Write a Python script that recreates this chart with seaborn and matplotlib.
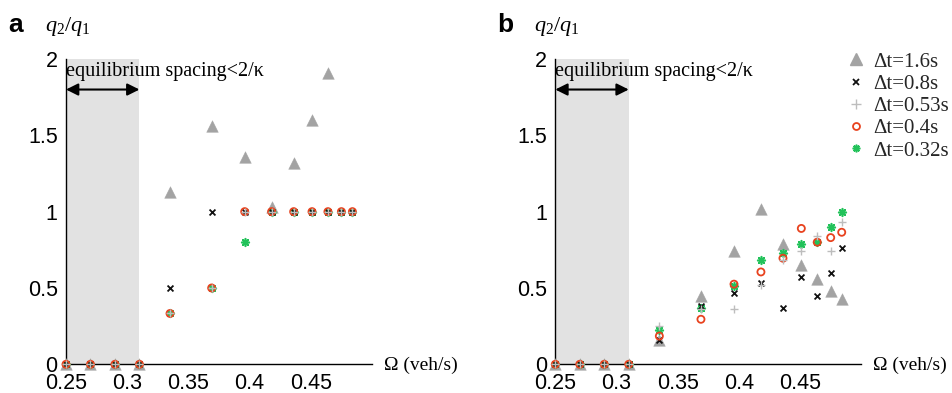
import numpy as np
import pandas as pd
import matplotlib
matplotlib.use("Agg")
import matplotlib.pyplot as plt
import seaborn as sns
from matplotlib.lines import Line2D

sns.set_theme(style="white")
plt.rcParams['font.family'] = ['Liberation Sans', 'DejaVu Sans']
plt.rcParams['mathtext.fontset'] = 'custom'
plt.rcParams['mathtext.rm'] = 'Liberation Serif'
plt.rcParams['mathtext.it'] = 'Liberation Serif:italic'

# ---------------- data ----------------
omega = [0.25, 0.27, 0.29, 0.31, 0.335, 0.369, 0.396, 0.418, 0.436, 0.451, 0.464, 0.475, 0.484]
labels = ["Δt=1.6s", "Δt=0.8s", "Δt=0.53s", "Δt=0.4s", "Δt=0.32s"]

# panel a
a_dt16 = [0, 0, 0, 0, 1.13, 1.56, 1.36, 1.03, 1.32, 1.60, 1.91, np.nan, np.nan]
a_dt08 = [0, 0, 0, 0, 0.50, 1.0, 1.0, 1.0, 1.0, 1.0, 1.0, 1.0, 1.0]
a_dt053 = [0, 0, 0, 0, 0.333, 0.5, 1.0, 1.0, 1.0, 1.0, 1.0, 1.0, 1.0]
a_dt04 = [0, 0, 0, 0, 0.333, 0.5, 1.0, 1.0, 1.0, 1.0, 1.0, 1.0, 1.0]
a_dt032 = [0, 0, 0, 0, 0.333, 0.5, 0.80, 1.0, 1.0, 1.0, 1.0, 1.0, 1.0]

# panel b
b_dt16 = [0, 0, 0, 0, 0.16, 0.45, 0.74, 1.02, 0.79, 0.65, 0.56, 0.48, 0.43]
b_dt08 = [0, 0, 0, 0, 0.16, 0.38, 0.47, 0.53, 0.37, 0.57, 0.45, 0.60, 0.76]
b_dt053 = [0, 0, 0, 0, 0.25, 0.36, 0.36, 0.52, 0.68, 0.74, 0.84, 0.74, 0.93]
b_dt04 = [0, 0, 0, 0, 0.185, 0.295, 0.525, 0.605, 0.695, 0.89, 0.80, 0.83, 0.865]
b_dt032 = [0, 0, 0, 0, 0.225, 0.37, 0.515, 0.68, 0.73, 0.79, 0.80, 0.90, 1.0]

shade_range = (0.25, 0.31)
xticks = [0.25, 0.3, 0.35, 0.4, 0.45]
xticklabels = ["0.25", "0.3", "0.35", "0.4", "0.45"]
yticks = [0, 0.5, 1, 1.5, 2]
yticklabels = ["0", "0.5", "1", "1.5", "2"]

# ---------------- styles ----------------
c_tri = "#a3a3a3"
c_x = "#111111"
c_plus = "#bdbdbd"
c_circ = "#e8421e"
c_ast = "#22c25a"
ast_marker = (8, 2, 0)

fig = plt.figure(figsize=(9.52, 3.93), dpi=100)
axA = fig.add_axes([66 / 952, 1 - 364.3 / 393, 306 / 952, 305.3 / 393])
axB = fig.add_axes([555.3 / 952, 1 - 364.3 / 393, 306 / 952, 305.3 / 393])

serif = ['Liberation Serif', 'DejaVu Serif']


def draw(ax, d16, d08, d053, d04, d032):
    ax.axvspan(*shade_range, color="#e2e2e2", lw=0, zorder=0)
    sns.scatterplot(x=omega, y=d16, marker="^", s=70, color=c_tri, edgecolor=c_tri,
                    linewidth=0.3, ax=ax, clip_on=False, zorder=3)
    sns.scatterplot(x=omega, y=d032, marker=ast_marker, s=30, color=c_ast,
                    linewidth=1.2, ax=ax, clip_on=False, zorder=4)
    sns.scatterplot(x=omega, y=d08, marker="x", s=18, color=c_x,
                    linewidth=1.3, ax=ax, clip_on=False, zorder=5)
    sns.scatterplot(x=omega, y=d04, marker="o", s=26, facecolors="none",
                    edgecolors=c_circ, linewidth=1.3, ax=ax, clip_on=False, zorder=6)
    sns.scatterplot(x=omega, y=d053, marker="+", s=40, color=c_plus,
                    linewidth=1.0, ax=ax, clip_on=False, zorder=7)
    ax.set_xlim(0.25, 0.5)
    ax.set_ylim(0, 2)
    ax.set_xticks(xticks)
    ax.set_xticklabels(xticklabels)
    ax.set_yticks(yticks)
    ax.set_yticklabels(yticklabels)
    ax.tick_params(axis="x", direction="in", length=4, width=0.8, color="black",
                   labelsize=15.5, pad=6.5, colors="black")
    ax.tick_params(axis="y", direction="in", length=0, labelsize=15.5, pad=6, colors="black")
    for side in ["top", "right"]:
        ax.spines[side].set_visible(False)
    for side in ["left", "bottom"]:
        ax.spines[side].set_color("black")
        ax.spines[side].set_linewidth(1.0)
    ax.set_xlabel("")
    ax.set_ylabel("")
    ax.annotate("", xy=(shade_range[0], 1.8), xytext=(shade_range[1], 1.8),
                arrowprops=dict(arrowstyle="<|-|>", color="black", lw=1.5,
                                mutation_scale=18, shrinkA=0, shrinkB=0), zorder=8)
    ax.text(shade_range[0], 1.92, "equilibrium spacing<2/κ", family=serif,
            fontsize=14.5, ha="left", va="center", color="black", zorder=8)


draw(axA, a_dt16, a_dt08, a_dt053, a_dt04, a_dt032)
draw(axB, b_dt16, b_dt08, b_dt053, b_dt04, b_dt032)

for ax, letter, lx in [(axA, "a", 8), (axB, "b", 497)]:
    x0 = ax.get_position().x0
    fig.text(lx / 952, 1 - 25 / 393, letter, fontsize=19, fontweight="bold",
             ha="left", va="center", color="black")
    fig.text(x0 - 21 / 952, 1 - 27 / 393, r"$q_{\mathrm{2}}/q_{\mathrm{1}}$",
             fontsize=16, ha="left", va="center", color="black")
    fig.text(ax.get_position().x1 + 12 / 952, 1 - 365 / 393, "Ω (veh/s)",
             family=serif, fontsize=14, ha="left", va="center", color="black")

handles = [
    Line2D([], [], ls="none", marker="^", ms=8.5, color=c_tri),
    Line2D([], [], ls="none", marker="x", ms=4.5, mew=1.3, color=c_x),
    Line2D([], [], ls="none", marker="+", ms=6.5, mew=1.0, color=c_plus),
    Line2D([], [], ls="none", marker="o", ms=5, mew=1.3, mfc="none", mec=c_circ),
    Line2D([], [], ls="none", marker=ast_marker, ms=5.5, mew=1.2, color=c_ast),
]
axB.legend(handles, labels, loc="upper left", bbox_to_anchor=(843 / 952, 1 - 52 / 393),
           bbox_transform=fig.transFigure, frameon=False,
           prop={"family": serif, "size": 15}, handletextpad=0.25,
           labelspacing=0.13, handlelength=1.2, borderaxespad=0, borderpad=0)

fig.savefig("out.png", dpi=100)
